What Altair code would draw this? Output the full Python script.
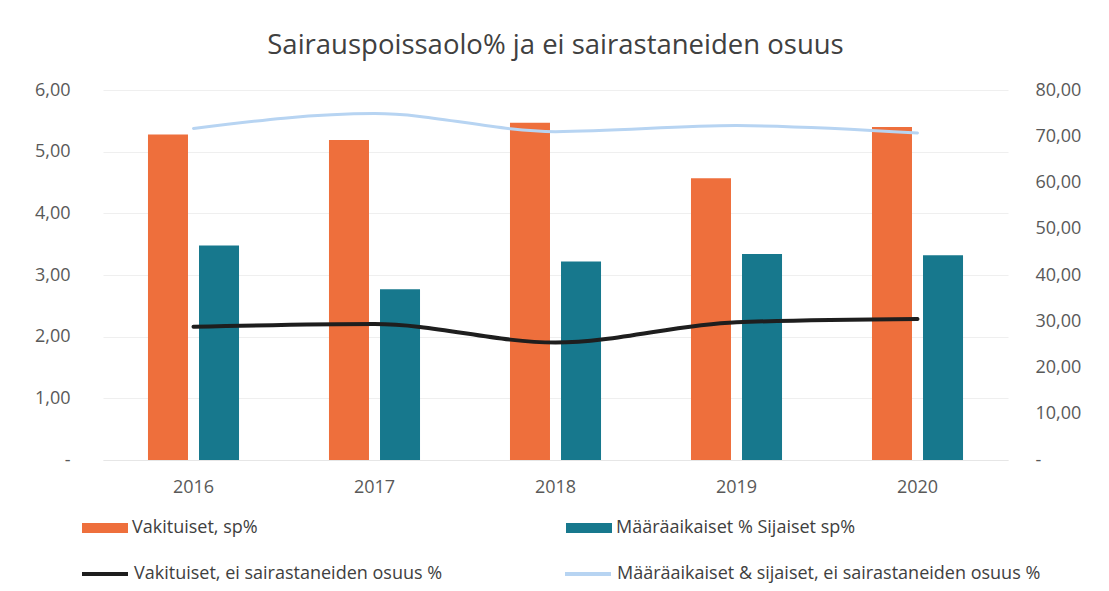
import altair as alt
import pandas as pd

years = ["2016", "2017", "2018", "2019", "2020"]
vakituiset_sp = [5.28, 5.19, 5.47, 4.57, 5.40]
maaraaikaiset_sp = [3.48, 2.77, 3.22, 3.34, 3.32]
vakituiset_ei = [28.8, 29.4, 25.4, 29.8, 30.5]
maaraaikaiset_ei = [71.7, 74.9, 71.0, 72.3, 70.7]

bar_names = ["Vakituiset, sp%", "Määräaikaiset % Sijaiset sp%"]
line_names = ["Vakituiset, ei sairastaneiden osuus %",
              "Määräaikaiset & sijaiset, ei sairastaneiden osuus %"]

left_ticks = [0, 1, 2, 3, 4, 5, 6]
right_ticks = [0, 10, 20, 30, 40, 50, 60, 70, 80]

bars_df = pd.DataFrame({
    "year": years * 2,
    "series": [bar_names[0]] * len(years) + [bar_names[1]] * len(years),
    "value": vakituiset_sp + maaraaikaiset_sp,
})
lines_df = pd.DataFrame({
    "year": years * 2,
    "series": [line_names[0]] * len(years) + [line_names[1]] * len(years),
    "value": vakituiset_ei + maaraaikaiset_ei,
})

FONT = "Open Sans"
LABEL = "#595959"
ORANGE = "#ee6f3c"
TEAL = "#17788d"
BLACK = "#1e1e1e"
LIGHTBLUE = "#b7d4f2"

label_expr = "datum.value == 0 ? '-' : replace(format(datum.value, '.2f'), '.', ',')"

x_enc = alt.X(
    "year:N", title=None,
    scale=alt.Scale(paddingInner=0.497, paddingOuter=0.2485),
    axis=alt.Axis(labelAngle=0, labelFontSize=18, labelColor=LABEL, labelFont=FONT,
                  labelPadding=18, ticks=False, domain=True, domainColor="#e6e6e6"),
)

bars = alt.Chart(bars_df).mark_bar().encode(
    x=x_enc,
    xOffset=alt.XOffset("series:N", sort=bar_names,
                        scale=alt.Scale(paddingInner=0.216, paddingOuter=0)),
    y=alt.Y("value:Q", title=None,
            scale=alt.Scale(domain=[0, 6], nice=False),
            axis=alt.Axis(values=left_ticks, labelExpr=label_expr, grid=True,
                          gridColor="#efefef", domain=False, ticks=False,
                          labelPadding=33, labelFontSize=18, labelColor=LABEL,
                          labelFont=FONT)),
    fill=alt.Fill("series:N", sort=bar_names,
                  scale=alt.Scale(domain=bar_names, range=[ORANGE, TEAL]),
                  legend=alt.Legend(orient="none", legendX=-21, legendY=415,
                                    title=None, columns=2, columnPadding=308,
                                    symbolType="M-1,-0.22H1V0.22H-1Z",
                                    symbolSize=2116, symbolStrokeWidth=0,
                                    labelFontSize=18, labelColor="#404040",
                                    labelFont=FONT, labelOffset=4, padding=0,
                                    labelLimit=700)),
)

lines = alt.Chart(lines_df).mark_line(interpolate="monotone", strokeCap="round").encode(
    x=x_enc,
    y=alt.Y("value:Q", title=None,
            scale=alt.Scale(domain=[0, 80], nice=False),
            axis=alt.Axis(orient="right", values=right_ticks, labelExpr=label_expr,
                          grid=False, domain=False, ticks=False, labelPadding=27,
                          labelFontSize=18, labelColor=LABEL, labelFont=FONT)),
    stroke=alt.Stroke("series:N", sort=line_names,
                      scale=alt.Scale(domain=line_names, range=[BLACK, LIGHTBLUE]),
                      legend=alt.Legend(orient="none", legendX=-23, legendY=459,
                                        title=None, columns=2, columnPadding=114,
                                        symbolType="stroke", symbolSize=2116,
                                        symbolStrokeWidth=4,
                                        labelFontSize=18, labelColor="#404040",
                                        labelFont=FONT, labelOffset=4, padding=0,
                                        labelLimit=700)),
    strokeWidth=alt.StrokeWidth("series:N",
                                scale=alt.Scale(domain=line_names, range=[4, 3]),
                                legend=None),
)

chart = alt.layer(bars, lines).resolve_scale(
    y="independent", fill="independent", stroke="independent"
).properties(
    width=905, height=370,
    title=alt.TitleParams("Sairauspoissaolo% ja ei sairastaneiden osuus",
                          fontSize=27.5, font=FONT, fontWeight="normal",
                          color="#404040", offset=22),
    autosize=alt.AutoSizeParams(type="none"),
    padding={"left": 95, "top": 82, "right": 93, "bottom": 123},
).configure(background="white").configure_view(stroke=None)

chart.save("out.html", embed_options={"renderer": "svg", "actions": False})
